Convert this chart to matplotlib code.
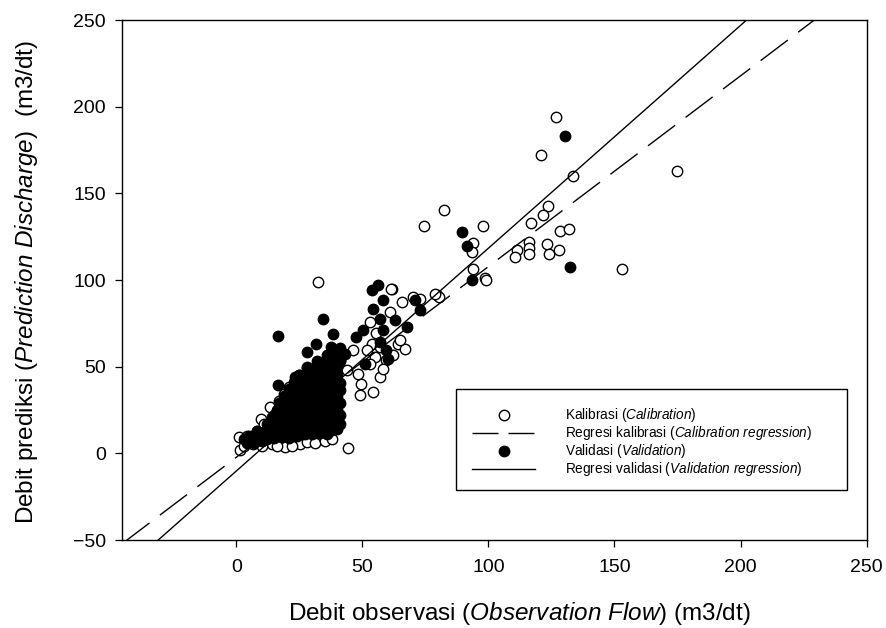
import matplotlib
matplotlib.use('Agg')
import matplotlib.pyplot as plt
from matplotlib.lines import Line2D
from matplotlib.patches import Rectangle
import numpy as np

plt.rcParams['font.family'] = ['Liberation Sans', 'DejaVu Sans']
plt.rcParams['mathtext.fontset'] = 'custom'
plt.rcParams['mathtext.rm'] = 'Liberation Sans'
plt.rcParams['mathtext.it'] = 'Liberation Sans:italic'

# Kalibrasi (open circles): observed vs predicted
cal_x = [126.8, 120.9, 133.4, 174.9, 82.3, 74.5, 97.9, 123.7, 121.7, 116.7, 128.3, 131.9,
         116.2, 116.0, 111.4, 110.4, 115.9, 123.1, 123.9, 127.9, 153.0, 93.7, 93.4, 93.7,
         98.6, 99.0, 79.6, 80.3, 61.9, 32.4, 44.1, 61.5, 65.5, 72.8, 78.7, 70.1,
         64.2, 66.8, 64.8, 52.9, 55.5, 60.9, 53.6, 56.9, 62.2, 59.5, 54.9, 51.6,
         56.9, 54.2, 48.9, 49.6, 48.3, 58.2, 52.9, 46.3, 43.7, 13.2, 9.9, 1.0,
         1.3, 6.6, 19.2, 25.1, 27.8, 13.9,
         10, 16, 22, 31, 35, 38, 3, 4, 8, 11, 15, 17, 19, 21, 25, 28, 30, 35,
         38, 40, 25, 20, 30, 33, 38, 40, 36]
cal_y = [194.0, 171.9, 159.8, 162.9, 140.2, 131.4, 131.0, 142.5, 137.7, 133.1, 128.3, 129.6,
         121.8, 118.3, 117.1, 113.3, 114.8, 120.6, 114.8, 117.1, 106.6, 121.3, 116.1, 106.6,
         101.4, 100.3, 91.2, 90.2, 94.8, 98.8, 3.3, 95.0, 87.3, 89.2, 92.1, 90.2,
         63.3, 60.4, 65.3, 75.5, 69.5, 81.7, 63.3, 61.3, 56.8, 53.7, 55.8, 59.4,
         44.0, 35.4, 33.5, 40.2, 46.0, 48.9, 51.7, 59.4, 47.9, 26.7, 20.0, 9.4,
         1.7, 5.6, 3.6, 5.6, 6.5, 5.6,
         4, 4, 4, 6, 7, 8, 4, 10, 13, 17, 22, 30, 34, 38, 45, 50, 40, 30,
         25, 15, 20, 15, 20, 45, 52, 55, 12]

# Validasi (filled circles)
val_x = [130.5, 89.4, 91.5, 93.4, 132.3, 73.0, 70.8, 16.3, 34.4, 38.3, 31.5, 27.8, 37.7,
         16.5, 23.1, 53.6, 56.2, 58.2, 54.0, 56.9, 62.8, 47.6, 50.3, 56.9, 60.2, 67.5,
         50.9, 43.0, 41.0, 59.5, 58.2,
         4, 7, 10, 5, 3,
         6, 9, 12, 15, 18, 21, 24, 27, 30, 33, 36,
         8, 11, 14, 17, 20, 23, 26, 29, 32, 35, 38, 40,
         12, 15, 18, 21, 24, 27, 30, 33, 36, 39, 41,
         14, 17, 20, 23, 26, 29, 32, 35, 38, 41,
         16, 19, 22, 25, 28, 31, 34, 37, 40,
         17, 20, 23, 26, 29, 32, 35, 38, 41,
         19, 22, 25, 28, 31, 34, 37, 40,
         21, 24, 27, 30, 33, 36, 39, 41,
         23, 26, 29, 32, 35, 38, 41,
         25, 28, 31, 34, 37, 40,
         28, 31, 34, 37, 40,
         32, 35, 38, 41,
         36, 39, 42,
         41]
val_y = [183.1, 127.5, 119.8, 99.8, 107.3, 82.5, 88.7, 67.5, 77.7, 69.1, 63.3, 58.4, 61.4,
         39.2, 44.0, 94.0, 96.9, 88.3, 83.5, 77.7, 76.7, 67.1, 71.0, 64.4, 54.6, 72.9,
         51.7, 57.5, 53.7, 59.4, 71.0,
         6, 6, 7, 10, 8,
         8, 8.5, 8, 9, 9.5, 9, 10, 11, 11, 11.5, 11,
         13, 12.5, 13, 14, 13, 13.5, 13, 14, 13, 14, 13.5, 14,
         17, 17.5, 16.5, 17, 18, 17, 17.5, 16.5, 17, 18, 17,
         21, 21.5, 20.5, 21, 22, 21, 21.5, 20.5, 21, 22,
         25, 25.5, 24.5, 25, 26, 25, 25.5, 24.5, 25,
         29, 29.5, 28.5, 29, 30, 29, 29.5, 28.5, 29,
         33, 33.5, 32.5, 33, 34, 33, 33.5, 32.5,
         37, 37.5, 36.5, 37, 38, 37, 37.5, 36.5,
         41, 41.5, 40.5, 41, 42, 41, 40.5,
         45, 45.5, 44.5, 45, 46, 45,
         49, 49.5, 48.5, 49, 50,
         53, 53.5, 52.5, 53,
         57, 57.5, 57,
         61]

# regression lines (intercept, slope)
cal_int, cal_slope = -2.2, 1.10
val_int, val_slope = -10.1, 1.285

x_ticks = [0, 50, 100, 150, 200, 250]
y_ticks = [-50, 0, 50, 100, 150, 200, 250]

fig = plt.figure(figsize=(8.87, 6.28), dpi=100)
ax = fig.add_axes([0.1379, 0.1401, 0.8390, 0.8280])

ax.plot(cal_x, cal_y, 'o', ls='none', ms=7.5, mfc='white', mec='black', mew=1.0, zorder=2)
ax.plot(val_x, val_y, 'o', ls='none', ms=7.5, mfc='black', mec='black', mew=1.0, zorder=3)

xline = np.array([-45.3, 250])
ax.plot(xline, cal_int + cal_slope * xline, color='black', lw=1.0, dashes=(24.5, 9.4), zorder=4)
ax.plot(xline, val_int + val_slope * xline, color='black', lw=1.0, zorder=4)

ax.set_xlim(-45.3, 250)
ax.set_ylim(-50, 250)
ax.set_xticks(x_ticks)
ax.set_yticks(y_ticks)
ax.tick_params(direction='out', length=5, width=0.9, labelsize=14, top=False, right=False)
ax.tick_params(axis='x', pad=9)
ax.tick_params(axis='y', pad=7)
for sp in ax.spines.values():
    sp.set_linewidth(1.0)

ax.set_xlabel(r'Debit observasi ($\mathit{Observation\ Flow}$) (m3/dt)', fontsize=17.5)
ax.xaxis.label.set_va('center')
ax.xaxis.set_label_coords(0.534, -0.1404)
ax.set_ylabel(r'Debit prediksi ($\mathit{Prediction\ Discharge}$)  (m3/dt)', fontsize=17.5)
ax.yaxis.label.set_va('center')
ax.yaxis.set_label_coords(-0.1294, 0.496)

# legend box drawn separately, entries placed inside
ax.add_patch(Rectangle((0.4484, 0.0962), 0.5254, 0.1951, transform=ax.transAxes,
                       fill=False, ec='black', lw=1.0, zorder=5))
handles = [
    Line2D([], [], ls='none', marker='o', ms=7.5, mfc='white', mec='black', mew=1.0),
    Line2D([], [], color='black', lw=1.0, dashes=(18.7, 7.2)),
    Line2D([], [], ls='none', marker='o', ms=7.5, mfc='black', mec='black', mew=1.0),
    Line2D([], [], color='black', lw=1.0),
]
labels = [r'Kalibrasi ($\mathit{Calibration}$)',
          r'Regresi kalibrasi ($\mathit{Calibration\ regression}$)',
          r'Validasi ($\mathit{Validation}$)',
          r'Regresi validasi ($\mathit{Validation\ regression}$)']
ax.legend(handles, labels, loc='upper left', bbox_to_anchor=(0.4699, 0.2571),
          frameon=False, fontsize=9.8, borderpad=0, borderaxespad=0,
          handlelength=4.63, handletextpad=2.2, labelspacing=0.0)

fig.savefig('out.png', dpi=100)
